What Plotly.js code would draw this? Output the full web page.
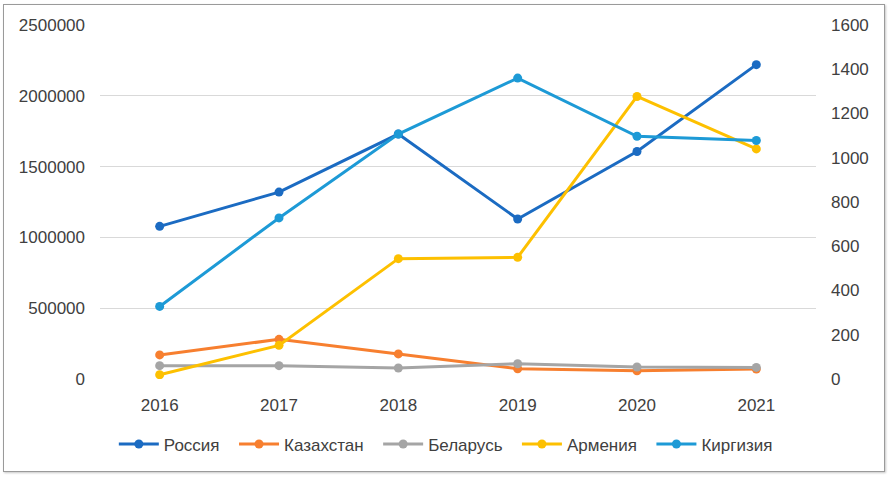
<!DOCTYPE html>
<html>
<head>
<meta charset="utf-8">
<script src="https://cdn.plot.ly/plotly-3.0.1.min.js"></script>
<style>
  html, body { margin: 0; padding: 0; background: #fff; }
  #wrap { position: relative; width: 889px; height: 479px; }
  #chart { position: absolute; left: 0; top: 0; width: 889px; height: 479px; }
  #frame { position: absolute; left: 3px; top: 4px; width: 880px; height: 466px;
           border: 1.5px solid #9a9a9a; box-shadow: 1px 1px 2px #c8c8c8; pointer-events: none; }
</style>
</head>
<body>
<div id="wrap">
  <div id="chart"></div>
  <div id="frame"></div>
</div>
<script>
const years = ["2016", "2017", "2018", "2019", "2020", "2021"];
const russia     = [1078000, 1320000, 1730000, 1130000, 1607000, 2220000];
const kazakhstan = [170000, 280000, 177000, 72000, 58000, 70000];
const belarus    = [94000, 94000, 78000, 108000, 85000, 82000];
const armenia    = [19, 152, 544, 550, 1277, 1040];
const kyrgyzstan = [328, 728, 1107, 1360, 1097, 1078];
const seriesNames = ["Россия", "Казахстан", "Беларусь", "Армения", "Киргизия"];
const leftTicks = [0, 500000, 1000000, 1500000, 2000000, 2500000];
const rightTicks = [0, 200, 400, 600, 800, 1000, 1200, 1400, 1600];

const colors = ["#1b6bc2", "#f77f2f", "#a5a5a5", "#fdc000", "#1d9ad6"];
const data = [russia, kazakhstan, belarus, armenia, kyrgyzstan];
const axes = ["y", "y", "y", "y2", "y2"];
const pad = "\u00a0\u00a0";

const traces = data.map((vals, i) => ({
  type: "scatter",
  mode: "lines+markers",
  x: years,
  y: vals,
  name: seriesNames[i] + (i < data.length - 1 ? pad : ""),
  yaxis: axes[i],
  line: { color: colors[i], width: 3 },
  marker: { color: colors[i], size: 9, symbol: "circle" }
}));

const font = { family: "Liberation Sans, Arial, sans-serif", size: 17, color: "#404040" };

const layout = {
  width: 889,
  height: 479,
  margin: { l: 100, r: 73, t: 25, b: 100, pad: 0 },
  paper_bgcolor: "#ffffff",
  plot_bgcolor: "#ffffff",
  font: font,
  showlegend: true,
  xaxis: {
    type: "category",
    range: [-0.5, 5.5],
    showgrid: false,
    showline: false,
    zeroline: false,
    ticks: "",
    ticklabelstandoff: 14,
    tickfont: font
  },
  yaxis: {
    range: [0, 2500000],
    tickvals: leftTicks,
    ticktext: leftTicks.map(String),
    showgrid: true,
    gridcolor: "#d9d9d9",
    gridwidth: 1,
    zeroline: false,
    showline: false,
    ticks: "",
    ticklabelstandoff: 14,
    tickfont: font
  },
  yaxis2: {
    overlaying: "y",
    side: "right",
    range: [0, 1600],
    tickvals: rightTicks,
    ticktext: rightTicks.map(String),
    showgrid: false,
    zeroline: false,
    showline: false,
    ticks: "",
    ticklabelstandoff: 14,
    tickfont: font
  },
  legend: {
    orientation: "h",
    x: 0.483,
    xanchor: "center",
    y: -0.185,
    yanchor: "middle",
    font: font,
    itemwidth: 40,
    bgcolor: "rgba(0,0,0,0)"
  }
};

Plotly.newPlot("chart", traces, layout, { staticPlot: true, displayModeBar: false });
</script>
</body>
</html>
